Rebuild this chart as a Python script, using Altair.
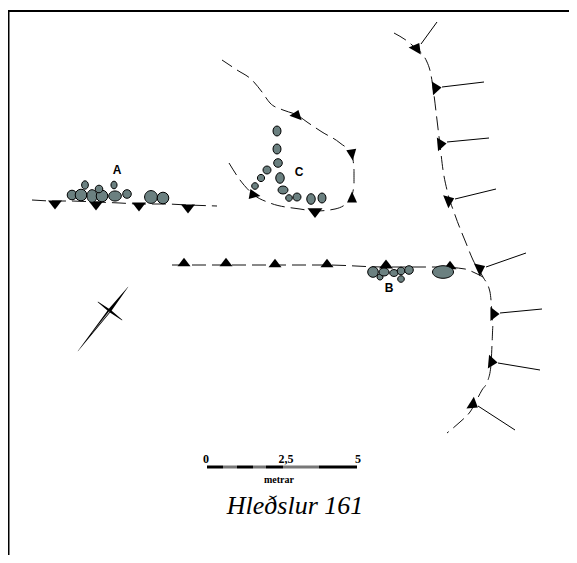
import altair as alt
import pandas as pd

# All values, in picture coordinates.
frame_x = [8.5, 8.5, 577]
frame_y = [563, 11, 11]

line_a_x = [32, 54, 70, 96, 120, 140, 165, 188, 217]
line_a_y = [200, 201, 201, 202, 203, 204, 204, 205, 206]
line_b_x = [172, 231, 275, 327, 384, 440, 465, 473, 483]
line_b_y = [265, 265, 265, 265, 267, 267, 269, 272, 277]
line_c_x = [229, 240, 254, 270, 300, 316, 335, 350, 354, 354, 352, 340, 322, 307, 297, 283, 270, 262, 252, 237, 222]
line_c_y = [163, 180, 195, 203, 209, 211, 209, 200, 185, 170, 155, 143, 132, 122, 115, 110, 103, 92, 80, 70, 60]
line_d_x = [394, 412, 427, 431, 434, 437, 440, 443, 447, 455, 466, 473, 483, 490, 491, 493, 492, 491, 488, 482, 470, 460, 447]
line_d_y = [33, 45, 62, 75, 95, 120, 145, 170, 190, 215, 243, 260, 277, 292, 300, 325, 345, 365, 380, 390, 412, 422, 433]

tri_x = [55, 96, 139, 188, 184, 226, 275, 327, 386, 450, 297, 352, 352, 315, 255, 417, 437, 442, 450, 481, 495, 493, 474]
tri_y = [205, 206, 207, 209, 262, 262, 263, 263, 264, 265, 114, 155, 197, 213, 195, 47, 88, 144, 200, 268, 314, 362, 405]
tri_angle = [180, 180, 180, 180, 0, 0, 0, 0, 0, 0, 20, 172, 0, 180, 100, 30, 85, 85, 68, 65, 90, 95, 122]
tri_kind = ["flat"] * 11 + ["sharp", "sharp", "flat", "sharp"] + ["flat"] * 8
tri_base = [14, 14, 14, 14, 13, 13, 13, 13, 14, 13, 13, 10, 10, 15, 10, 14, 14, 14, 14, 14, 14, 14, 14]

stem_x1 = [421, 442, 447, 455, 486, 500, 498, 478]
stem_y1 = [44, 87, 142, 199, 267, 313, 363, 406]
stem_x2 = [437, 484, 489, 496, 526, 542, 540, 515]
stem_y2 = [22, 82, 138, 189, 253, 309, 370, 430]

stone_x = [72, 81, 92, 102, 85, 99, 115, 114, 127, 151, 163,
           277, 277, 278, 267, 261, 255, 280, 283, 289, 297, 311, 322,
           373, 380, 384, 394, 401, 409, 401, 443]
stone_y = [195, 195, 196, 196, 185, 189, 196, 185, 194, 197, 198,
           131, 149, 163, 170, 178, 186, 178, 190, 198, 197, 199, 198,
           272, 277, 272, 273, 271, 270, 279, 272]
stone_r = [4.8, 5.8, 6.3, 5.8, 4.2, 3.8, 6.3, 3.8, 4.3, 6.4, 5.8,
           5, 5, 4.3, 4, 3.6, 3.3, 5.3, 5, 3.3, 4, 5.3, 5,
           5.3, 3, 5, 4.3, 3.8, 4.3, 3.3, 10.5]
stone_kind = ["round", "round", "tall", "round", "tall", "round", "wide", "tall", "round", "round", "round",
              "tall", "tall", "round", "round", "round", "round", "tall", "wide", "round", "round", "tall", "tall",
              "round", "round", "wide", "wide", "round", "round", "round", "flat"]

letters = ["A", "C", "B"]
letter_x = [117, 299, 389]
letter_y = [170, 172, 288]

needle_x = [78, 110, 128]
needle_y = [351, 310, 287]
needle_w = [0.4, 3.4, 0.4]
cross_x = [98, 110, 122]
cross_y = [302, 311, 320]
cross_w = [0.6, 2.8, 0.6]
sliver_x = [92, 109]
sliver_y = [333, 312]
sliver_w = [0.2, 1.0]

bar_x1 = [207, 223, 237, 253, 266, 283, 319]
bar_x2 = [223, 237, 253, 266, 283, 319, 357]
bar_col = ["k", "g", "k", "g", "k", "g", "k"]
bar_y = 467

scale_labels = ["0", "2,5", "5"]
scale_label_x = [206, 286, 358]
scale_label_y = [459, 459, 459]

X = alt.Scale(domain=[8, 569])
Y = alt.Scale(domain=[555, 8])


def ex(f="x"):
    return alt.X(f + ":Q", scale=X, axis=None)


def ey(f="y"):
    return alt.Y(f + ":Q", scale=Y, axis=None)


def path_df(name_xy):
    rows = []
    for name, xs, ys in name_xy:
        for i, (a, b) in enumerate(zip(xs, ys)):
            rows.append({"s": name, "i": i, "x": a, "y": b})
    return pd.DataFrame(rows)


frame = alt.Chart(path_df([("f", frame_x, frame_y)])).mark_line(
    color="#000", strokeWidth=2, clip=True
).encode(x=ex(), y=ey(), order="i:Q")

dashed = alt.Chart(path_df([("a", line_a_x, line_a_y), ("b", line_b_x, line_b_y),
                            ("c", line_c_x, line_c_y), ("d", line_d_x, line_d_y)])).mark_line(
    color="#111", strokeWidth=1, strokeDash=[14, 6], interpolate="monotone"
).encode(x=ex(), y=ey(), detail="s:N", order="i:Q")

stems = alt.Chart(pd.DataFrame({"x": stem_x1, "y": stem_y1, "x2": stem_x2, "y2": stem_y2})).mark_rule(
    color="#000", strokeWidth=1
).encode(x=ex(), y=ey(), x2="x2:Q", y2="y2:Q")

tri_df = pd.DataFrame({"x": tri_x, "y": tri_y, "a": tri_angle, "k": tri_kind,
                       "sz": [b * b for b in tri_base]})
triangles = alt.Chart(tri_df).mark_point(filled=True, color="#000", opacity=1, strokeWidth=0).encode(
    x=ex(), y=ey(),
    angle=alt.Angle("a:Q", scale=None),
    size=alt.Size("sz:Q", scale=None),
    shape=alt.Shape("k:N", legend=None, scale=alt.Scale(
        domain=["flat", "sharp"],
        range=["M -1 0.65 L 0 -0.65 L 1 0.65 Z", "M -1 1.1 L 0 -1.1 L 1 1.1 Z"])),
)

E = "M {0} 0 A {0} {1} 0 1 0 -{0} 0 A {0} {1} 0 1 0 {0} 0 Z"
stone_df = pd.DataFrame({"x": stone_x, "y": stone_y, "k": stone_kind,
                         "sz": [(2 * r) ** 2 for r in stone_r]})
stones = alt.Chart(stone_df).mark_point(
    filled=True, fill="#6b8080", stroke="#000", strokeWidth=1, opacity=1
).encode(
    x=ex(), y=ey(),
    size=alt.Size("sz:Q", scale=None),
    shape=alt.Shape("k:N", legend=None, scale=alt.Scale(
        domain=["round", "tall", "wide", "flat"],
        range=[E.format(1, 1), E.format(0.8, 1), E.format(1, 0.8), E.format(1, 0.6)])),
)

letter_marks = alt.Chart(pd.DataFrame({"x": letter_x, "y": letter_y, "t": letters})).mark_text(
    font="Liberation Sans", fontWeight="bold", fontSize=12, color="#000"
).encode(x=ex(), y=ey(), text="t:N")


def trail(name, xs, ys, ws, col):
    df = pd.DataFrame({"x": xs, "y": ys, "w": ws, "i": range(len(xs))})
    return alt.Chart(df).mark_trail(color=col).encode(
        x=ex(), y=ey(), order="i:Q", size=alt.Size("w:Q", scale=None, legend=None)
    )


needle = trail("n", needle_x, needle_y, needle_w, "#000")
cross = trail("c", cross_x, cross_y, cross_w, "#000")
sliver = trail("s", sliver_x, sliver_y, sliver_w, "#ccc")

bar = alt.Chart(pd.DataFrame({"x": bar_x1, "x2": bar_x2, "c": bar_col, "y": [bar_y] * 7})).mark_rule(
    strokeWidth=3
).encode(
    x=ex(), x2="x2:Q", y=ey(),
    color=alt.Color("c:N", legend=None, scale=alt.Scale(domain=["k", "g"], range=["#000", "#777"])),
)

scale_text = alt.Chart(pd.DataFrame({"x": scale_label_x, "y": scale_label_y, "t": scale_labels})).mark_text(
    font="Liberation Serif", fontWeight="bold", fontSize=12, color="#000"
).encode(x=ex(), y=ey(), text="t:N")

unit = alt.Chart(pd.DataFrame({"x": [279], "y": [480], "t": ["metrar"]})).mark_text(
    font="Liberation Serif", fontWeight="bold", fontSize=10, color="#000"
).encode(x=ex(), y=ey(), text="t:N")

title = alt.Chart(pd.DataFrame({"x": [295], "y": [506], "t": ["Hleðslur 161"]})).mark_text(
    font="Liberation Serif", fontStyle="italic", fontSize=26, color="#000"
).encode(x=ex(), y=ey(), text="t:N")

chart = alt.layer(
    frame, dashed, stems, triangles, stones, letter_marks,
    needle, cross, sliver, bar, scale_text, unit, title
).resolve_scale(shape="independent", size="independent", color="independent").properties(
    width=561, height=547, padding=0, autosize=alt.AutoSizeParams(type="none"),
    background="white"
).configure_view(stroke=None)

chart.save("out.html", embed_options={"renderer": "svg", "actions": False})
